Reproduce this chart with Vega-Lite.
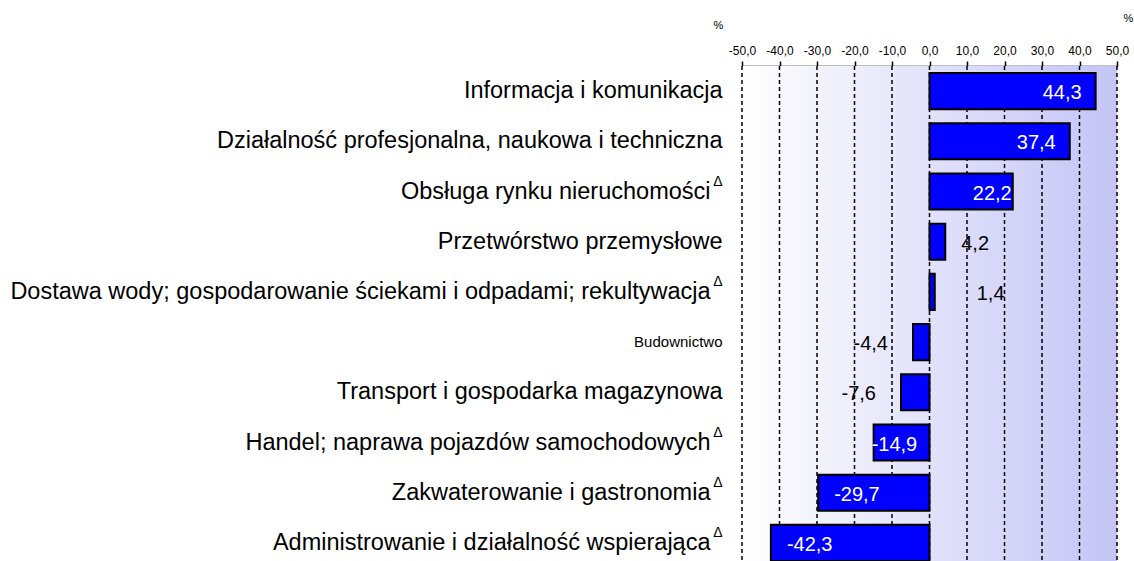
{
  "$schema": "https://vega.github.io/schema/vega-lite/v6.json",
  "width": 375,
  "height": 502,
  "autosize": {"type": "none"},
  "padding": {"left": 742, "top": 66, "right": 17, "bottom": 0},
  "background": "white",
  "config": {
    "font": "Liberation Sans",
    "view": {"stroke": null},
    "locale": {"number": {"decimal": ",", "thousands": " ", "grouping": [3], "currency": ["", " zł"], "minus": "-"}}
  },
  "datasets": {
    "rows": [
      {"cat": "Informacja i komunikacja", "value": 44.3, "delta": false},
      {"cat": "Działalność profesjonalna, naukowa i techniczna", "value": 37.4, "delta": false},
      {"cat": "Obsługa rynku nieruchomości", "value": 22.2, "delta": true},
      {"cat": "Przetwórstwo przemysłowe", "value": 4.2, "delta": false},
      {"cat": "Dostawa wody; gospodarowanie ściekami i odpadami; rekultywacja", "value": 1.4, "delta": true},
      {"cat": "Budownictwo", "value": -4.4, "delta": false},
      {"cat": "Transport i gospodarka magazynowa", "value": -7.6, "delta": false},
      {"cat": "Handel; naprawa pojazdów samochodowych", "value": -14.9, "delta": true},
      {"cat": "Zakwaterowanie i gastronomia", "value": -29.7, "delta": true},
      {"cat": "Administrowanie i działalność wspierająca", "value": -42.3, "delta": true}
    ],
    "grid": [{"t": -50}, {"t": -40}, {"t": -30}, {"t": -20}, {"t": -10}, {"t": 0}, {"t": 10}, {"t": 20}, {"t": 30}, {"t": 40}, {"t": 50}]
  },
  "layer": [
    {
      "data": {"values": [{}]},
      "mark": {
        "type": "rect",
        "fill": {"gradient": "linear", "x1": 0, "y1": 0, "x2": 1, "y2": 0,
          "stops": [{"offset": 0, "color": "#ffffff"}, {"offset": 1, "color": "#c4c4f6"}]}
      },
      "encoding": {
        "x": {
          "datum": -50, "type": "quantitative",
          "scale": {"domain": [-50, 50], "nice": false},
          "axis": {
            "orient": "top",
            "values": [-50, -40, -30, -20, -10, 0, 10, 20, 30, 40, 50],
            "tickCount": 11,
            "format": ".1f",
            "grid": false,
            "domainColor": "#000000",
            "domainWidth": 1.5,
            "tickColor": "#000000",
            "tickWidth": 1.5,
            "tickSize": 5,
            "labelFontSize": 12,
            "labelColor": "#000000",
            "labelPadding": 4,
            "labelOverlap": false,
            "labelFlush": false,
            "title": "%",
            "titleFontSize": 11,
            "titleFontWeight": "normal",
            "titleColor": "#000000",
            "titleX": 386,
            "titleY": -48,
            "titleAlign": "center",
            "titleBaseline": "middle"
          }
        },
        "x2": {"datum": 50}
      }
    },
    {
      "data": {"name": "grid"},
      "mark": {"type": "rule", "color": "#000000", "strokeWidth": 1.5, "strokeDash": [4, 3]},
      "encoding": {
        "x": {"field": "t", "type": "quantitative"}
      }
    },
    {
      "data": {"name": "rows"},
      "mark": {"type": "bar", "fill": "#0000ff", "stroke": "#000000", "strokeWidth": 2},
      "encoding": {
        "x": {"field": "value", "type": "quantitative"},
        "y": {
          "field": "cat", "type": "nominal", "sort": null,
          "scale": {"paddingInner": 0.28, "paddingOuter": 0.14},
          "axis": {
            "domain": false,
            "ticks": false,
            "labelLimit": 1000,
            "labelColor": "#000000",
            "labelFontSize": {"condition": {"test": "datum.value === 'Budownictwo'", "value": 15}, "value": 23.5},
            "labelPadding": {"condition": {"test": "indexof(['Obsługa rynku nieruchomości','Dostawa wody; gospodarowanie ściekami i odpadami; rekultywacja','Handel; naprawa pojazdów samochodowych','Zakwaterowanie i gastronomia','Administrowanie i działalność wspierająca'], datum.value) >= 0", "value": 32}, "value": 20},
            "title": "%",
            "titleAngle": 0,
            "titleFontSize": 11,
            "titleFontWeight": "normal",
            "titleColor": "#000000",
            "titleX": -24,
            "titleY": -41,
            "titleAlign": "center",
            "titleBaseline": "middle"
          }
        }
      }
    },
    {
      "data": {"name": "rows"},
      "transform": [{"filter": "datum.value >= 30"}],
      "mark": {"type": "text", "align": "right", "baseline": "middle", "dx": -14, "dy": 2, "fontSize": 20, "color": "#ffffff"},
      "encoding": {
        "x": {"field": "value", "type": "quantitative"},
        "y": {"field": "cat", "type": "nominal", "sort": null},
        "text": {"field": "value", "type": "quantitative", "format": ".1f"}
      }
    },
    {
      "data": {"name": "rows"},
      "transform": [{"filter": "datum.value >= 10 && datum.value < 30"}],
      "mark": {"type": "text", "align": "right", "baseline": "middle", "dx": -1, "dy": 2, "fontSize": 20, "color": "#ffffff"},
      "encoding": {
        "x": {"field": "value", "type": "quantitative"},
        "y": {"field": "cat", "type": "nominal", "sort": null},
        "text": {"field": "value", "type": "quantitative", "format": ".1f"}
      }
    },
    {
      "data": {"name": "rows"},
      "transform": [{"filter": "datum.value <= -20"}],
      "mark": {"type": "text", "align": "left", "baseline": "middle", "dx": 16, "dy": 2, "fontSize": 20, "color": "#ffffff"},
      "encoding": {
        "x": {"field": "value", "type": "quantitative"},
        "y": {"field": "cat", "type": "nominal", "sort": null},
        "text": {"field": "value", "type": "quantitative", "format": ".1f"}
      }
    },
    {
      "data": {"name": "rows"},
      "transform": [{"filter": "datum.value <= -10 && datum.value > -20"}],
      "mark": {"type": "text", "align": "left", "baseline": "middle", "dx": -2, "dy": 2, "fontSize": 20, "color": "#ffffff"},
      "encoding": {
        "x": {"field": "value", "type": "quantitative"},
        "y": {"field": "cat", "type": "nominal", "sort": null},
        "text": {"field": "value", "type": "quantitative", "format": ".1f"}
      }
    },
    {
      "data": {"name": "rows"},
      "transform": [{"filter": "datum.value >= 3 && datum.value < 10"}],
      "mark": {"type": "text", "align": "left", "baseline": "middle", "dx": 16, "dy": 2, "fontSize": 20, "color": "#000000"},
      "encoding": {
        "x": {"field": "value", "type": "quantitative"},
        "y": {"field": "cat", "type": "nominal", "sort": null},
        "text": {"field": "value", "type": "quantitative", "format": ".1f"}
      }
    },
    {
      "data": {"name": "rows"},
      "transform": [{"filter": "datum.value > 0 && datum.value < 3"}],
      "mark": {"type": "text", "align": "left", "baseline": "middle", "dx": 42, "dy": 2, "fontSize": 20, "color": "#000000"},
      "encoding": {
        "x": {"field": "value", "type": "quantitative"},
        "y": {"field": "cat", "type": "nominal", "sort": null},
        "text": {"field": "value", "type": "quantitative", "format": ".1f"}
      }
    },
    {
      "data": {"name": "rows"},
      "transform": [{"filter": "datum.value < 0 && datum.value > -10"}],
      "mark": {"type": "text", "align": "right", "baseline": "middle", "dx": -25, "dy": 2, "fontSize": 20, "color": "#000000"},
      "encoding": {
        "x": {"field": "value", "type": "quantitative"},
        "y": {"field": "cat", "type": "nominal", "sort": null},
        "text": {"field": "value", "type": "quantitative", "format": ".1f"}
      }
    },
    {
      "data": {"name": "rows"},
      "transform": [{"filter": "datum.delta"}],
      "mark": {"type": "text", "align": "center", "baseline": "middle", "dx": -24, "dy": -10, "fontSize": 14, "color": "#000000", "text": "Δ"},
      "encoding": {
        "x": {"datum": -50, "type": "quantitative"},
        "y": {"field": "cat", "type": "nominal", "sort": null}
      }
    }
  ]
}
